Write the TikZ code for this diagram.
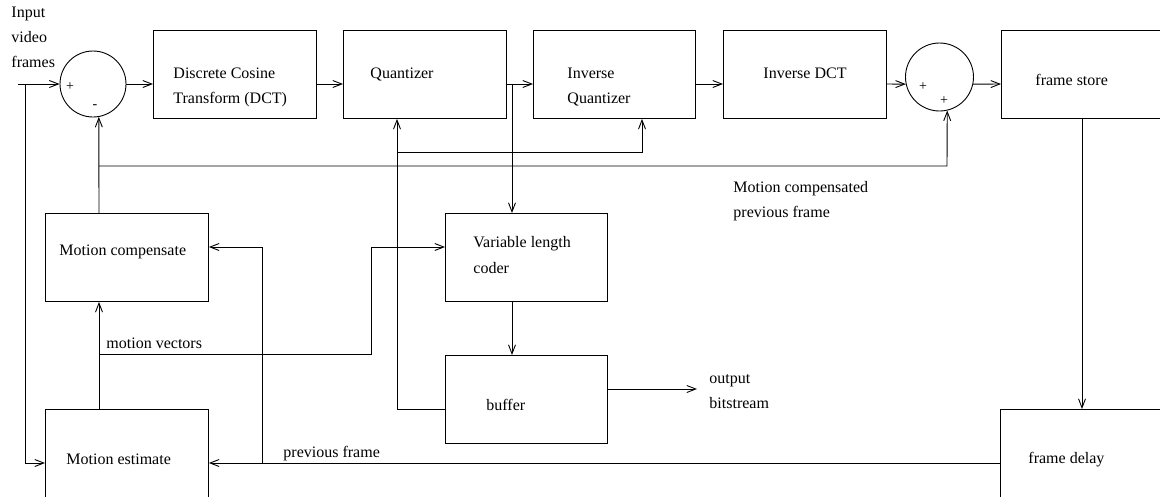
\documentclass[tikz,border=0pt]{standalone}
\usepackage{fontspec}
\setmainfont{Liberation Serif}
\usetikzlibrary{arrows.meta}
\begin{document}
\begin{tikzpicture}[x=1pt,y=-1pt,
  line width=0.9pt,
  arr/.style={-{Straight Barb[length=9pt,width=7pt,line width=0.9pt]}},
  box/.style={draw, rectangle, anchor=north west, inner sep=0pt, minimum width=#1, minimum height=88pt},
  box/.default=163pt,
  sum/.style={draw, circle, inner sep=0pt},
  txt/.style={anchor=base west, inner sep=0pt, font=\fontsize{16}{19}\selectfont},
  sign/.style={inner sep=0pt, font=\fontsize{14}{16}\selectfont}
]
\useasboundingbox (0,0) rectangle (1160,496);
\clip (0,0) rectangle (1160,496);

% blocks
\node[box] (dct) at (153,30) {};
\node[box] (quant) at (343,30) {};
\node[box=162pt] (iquant) at (533,30) {};
\node[box] (idct) at (723,30) {};
\node[box=220pt] (fstore) at (1001,30) {};
\node[box] (mc) at (45,213) {};
\node[box=162pt] (vlc) at (445,213) {};
\node[box=162pt] (buf) at (445,355) {};
\node[box, minimum height=120pt] (me) at (45,409) {};
\node[box=220pt, minimum height=120pt] (fdelay) at (1000,409) {};
\node[sum, minimum size=66pt] (s1) at (93,84) {};
\node[sum, minimum size=68pt] (s2) at (939.5,77) {};

% texts
\node[txt] (tin1) at (11,17) {Input};
\node[txt] (tin2) at (11,42) {video};
\node[txt] (tin3) at (11,67) {frames};
\node[txt] (tdct1) at (173,78) {Discrete Cosine};
\node[txt] (tdct2) at (173,103) {Transform (DCT)};
\node[txt] (tq) at (370,78) {Quantizer};
\node[txt] (tiq1) at (567,78) {Inverse};
\node[txt] (tiq2) at (567,103) {Quantizer};
\node[txt] (tidct) at (763,78) {Inverse DCT};
\node[txt] (tfs) at (1035,85) {frame store};
\node[txt] (tmcp1) at (733,192) {Motion compensated};
\node[txt] (tmcp2) at (733,217) {previous frame};
\node[txt] (tmc) at (59,255) {Motion compensate};
\node[txt] (tvlc1) at (473,247) {Variable length};
\node[txt] (tvlc2) at (473,273) {coder};
\node[txt] (tmv) at (106,348) {motion vectors};
\node[txt] (tbuf) at (486,410) {buffer};
\node[txt] (tout1) at (709,383) {output};
\node[txt] (tout2) at (709,408) {bitstream};
\node[txt] (tme) at (66,464) {Motion estimate};
\node[txt] (tpf) at (283,457) {previous frame};
\node[txt] (tfd) at (1028,463) {frame delay};
\node[sign] (p1) at (70,87) {+};
\node[sign] (m1) at (95,107) {-};
\node[sign] (p2) at (923,87) {+};
\node[sign] (p3) at (944,101) {+};

% helper coordinates
\coordinate (r) at (0,84);
\coordinate (in0) at (18,84);
\coordinate (inb) at (25,84);
\coordinate (qb) at (512,84);
\coordinate (fb) at (397,409);
\coordinate (fbq) at (397,152);
\coordinate (fbi) at (642,152);
\coordinate (mcx) at (99,166);
\coordinate (mcy) at (947,166);
\coordinate (mv) at (99,354);
\coordinate (mv1) at (371,354);
\coordinate (mv2) at (371,247);
\coordinate (pf) at (262,463);
\coordinate (pf1) at (262,247);
\coordinate (out) at (697,389);
\coordinate (fsd) at (1082,118);

% forward path
\draw[arr] (in0) -- (s1.west);
\draw[arr] (s1.east) -- (dct.west |- r);
\draw[arr] (dct.east |- r) -- (quant.west |- r);
\draw[arr] (quant.east |- r) -- (iquant.west |- r);
\draw[arr] (iquant.east |- r) -- (idct.west |- r);
\draw[arr] (idct.east |- r) -- (s2.192);
\draw[arr] (s2.348) -- (fstore.west |- r);
\draw[arr] (qb) -- (qb |- vlc.north);
\draw[arr] (qb |- vlc.south) -- (qb |- buf.north);
\draw[arr] (buf.east |- out) -- (out);

% buffer feedback
\draw[arr] (buf.west |- fb) -- (fb) -- (fb |- quant.south);
\draw[arr] (fbq) -- (fbi) -- (fbi |- iquant.south);

% motion compensated prediction
\draw[arr] (mcx |- mc.north) -- (s1.280);
\draw[arr] (mcx) -- (mcy) -- (s2.283);
\draw[arr] (mcx |- me.north) -- (mcx |- mc.south);
\draw[arr] (mv) -- (mv1) -- (mv2) -- (vlc.west |- mv2);

% input to motion estimate
\draw[arr] (inb) -- (inb |- pf) -- (me.west |- pf);

% frame store / delay
\draw[arr] (fsd) -- (fsd |- fdelay.north);
\draw[arr] (fdelay.west |- pf) -- (me.east |- pf);
\draw[arr] (pf) -- (pf1) -- (mc.east |- pf1);
\end{tikzpicture}
\end{document}
